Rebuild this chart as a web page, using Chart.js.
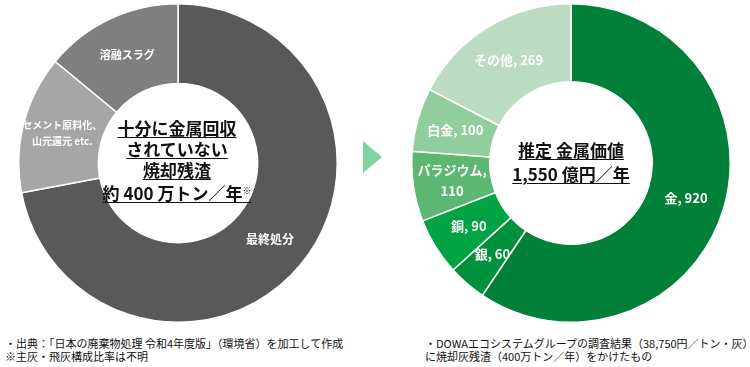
<!DOCTYPE html>
<html>
<head>
<meta charset="utf-8">
<script src="https://cdn.jsdelivr.net/npm/chart.js@4.4.1/dist/chart.umd.min.js"></script>
<style>
html,body{margin:0;padding:0;background:#fff;width:750px;height:367px;overflow:hidden;
  font-family:"Noto Sans CJK JP","Noto Sans",sans-serif;}
canvas{position:absolute;}
.ctext{position:absolute;text-align:center;font-weight:bold;color:#111;font-size:17px;white-space:nowrap;}
.ctext div{height:21px;line-height:21px;}
.ctext span{text-decoration:underline;text-underline-offset:2px;text-decoration-thickness:1px;}
.note{position:absolute;font-size:11px;line-height:13px;color:#111;white-space:nowrap;}
.arrow{position:absolute;left:363px;top:141px;width:0;height:0;
  border-top:16.5px solid transparent;border-bottom:16.5px solid transparent;border-left:19px solid #7fd3a1;}
sup{font-size:9px;vertical-align:6px;}
</style>
</head>
<body>
<canvas id="left" width="320" height="320" style="left:18px;top:3px;"></canvas>
<canvas id="right" width="320" height="320" style="left:411px;top:3px;"></canvas>
<div class="arrow"></div>

<div class="ctext" style="left:77px;width:200px;top:117px;">
  <div><span>十分に金属回収</span></div>
  <div><span>されていない</span></div>
  <div><span>焼却残渣</span></div>
  <div><span>約 400 万トン／年<sup>※</sup></span></div>
</div>
<div class="ctext" style="left:471px;width:200px;top:138px;">
  <div style="height:24px;line-height:24px;"><span>推定 金属価値</span></div>
  <div style="height:24px;line-height:24px;"><span>1,550 億円／年</span></div>
</div>

<div class="note" style="left:5px;top:337px;">・出典：「日本の廃棄物処理 令和4年度版」（環境省）を加工して作成<br>※主灰・飛灰構成比率は不明</div>
<div class="note" style="left:425px;top:337px;">・DOWAエコシステムグループの調査結果（38,750円／トン・灰）<br>に焼却灰残渣（400万トン／年）をかけたもの</div>

<script>
// ---- data ----
const residueCategories = ['最終処分', ['セメント原料化、', '山元還元 etc.'], '溶融スラグ'];
const residueShares = [72, 14, 14];

const metalCategories = ['金', '銀', '銅', 'パラジウム', '白金', 'その他'];
const metalValues = [920, 60, 90, 110, 100, 269];

// ---- styles ----
const residueColors = ['#595959', '#a6a6a6', '#7f7f7f'];
const residueLabelSizes = [12, 10, 11];
const metalColors = ['#008038', '#00913d', '#00a443', '#5cb870', '#92cd9e', '#bcdcc2'];
const metalLabelSizes = [13, 13, 13, 13, 13, 13];

const segLabels = {
  id: 'segLabels',
  afterDatasetsDraw(chart, args, opts) {
    const ctx = chart.ctx;
    const meta = chart.getDatasetMeta(0);
    ctx.save();
    ctx.fillStyle = '#ffffff';
    ctx.textAlign = 'center';
    ctx.textBaseline = 'middle';
    meta.data.forEach((arc, i) => {
      const p = arc.tooltipPosition(true);
      const lines = opts.lines[i];
      const fs = opts.sizes[i];
      ctx.font = `${opts.weight} ${fs}px "Noto Sans CJK JP"`;
      const lh = fs * opts.lineHeight;
      lines.forEach((t, k) => ctx.fillText(t, p.x, p.y + (k - (lines.length - 1) / 2) * lh));
    });
    ctx.restore();
  }
};

function toLines(c) { return Array.isArray(c) ? c : [c]; }

const residueLines = residueCategories.map(toLines);
const metalLines = metalCategories.map((c, i) =>
  c.length >= 5 ? [c + ',', String(metalValues[i])] : [c + ', ' + metalValues[i]]);

function makeDonut(id, labels, values, colors, lines, sizes, weight, lh, cutout) {
  return new Chart(document.getElementById(id), {
    type: 'doughnut',
    data: {
      labels: labels.map(l => Array.isArray(l) ? l.join('') : l),
      datasets: [{
        data: values,
        backgroundColor: colors,
        borderColor: '#ffffff',
        borderWidth: 1.5,
        hoverOffset: 0
      }]
    },
    options: {
      responsive: false,
      animation: false,
      devicePixelRatio: 1,
      cutout: cutout,
      layout: { padding: 0 },
      plugins: {
        legend: { display: false },
        tooltip: { enabled: false },
        segLabels: { lines: lines, sizes: sizes, weight: weight, lineHeight: lh }
      }
    },
    plugins: [segLabels]
  });
}

makeDonut('left', residueCategories, residueShares, residueColors, residueLines, residueLabelSizes, 'bold', 1.55, '50%');
makeDonut('right', metalCategories, metalValues, metalColors, metalLines, metalLabelSizes, 'bold', 1.6, '51%');
</script>
</body>
</html>
